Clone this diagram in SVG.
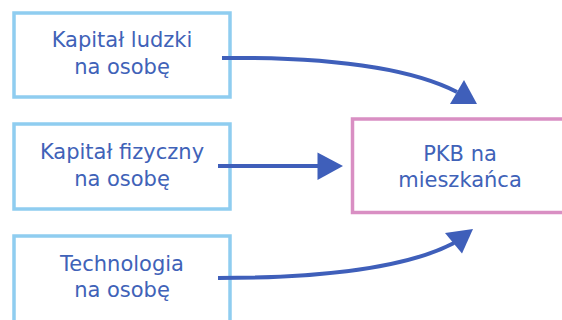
<svg xmlns="http://www.w3.org/2000/svg" width="562" height="320" viewBox="0 0 562 320">
<style>
.box{fill:#fff;stroke:#8fcdf0;stroke-width:3.5}
.pkb{fill:#fff;stroke:#d98fc3;stroke-width:3.5}
text{font-family:"DejaVu Sans",sans-serif;font-size:21px;fill:#4062b8;text-anchor:middle}
.conn path{fill:none;stroke:#3f5fba;stroke-width:4}
.conn polygon{fill:#3f5fba}
</style>
<rect width="562" height="320" fill="#fff"/>
<g id="n1"><rect class="box" x="14" y="13" width="216" height="84"/><text x="122" y="47">Kapitał ludzki</text><text x="122" y="74">na osobę</text></g>
<g id="n2"><rect class="box" x="14" y="124" width="216" height="85"/><text x="122" y="159">Kapitał fizyczny</text><text x="122" y="186">na osobę</text></g>
<g id="n3"><rect class="box" x="14" y="236" width="216" height="86"/><text x="122" y="271">Technologia</text><text x="122" y="297">na osobę</text></g>
<g id="n4"><rect class="pkb" x="352.5" y="119" width="216" height="93.5"/><text x="460" y="161">PKB na</text><text x="460" y="187">mieszkańca</text></g>
<g class="conn" id="connectors">
<path d="M222,58 C330,57 410,68 457,92"/>
<polygon points="464,80 450,104 477,104"/>
<path d="M218,166 L320,166"/>
<polygon points="317.5,152.5 343,166 317.5,180"/>
<path d="M218,278 C330,278 410,266 454,243"/>
<polygon points="473,229 445,233 462,253.5"/>
</g>
</svg>
